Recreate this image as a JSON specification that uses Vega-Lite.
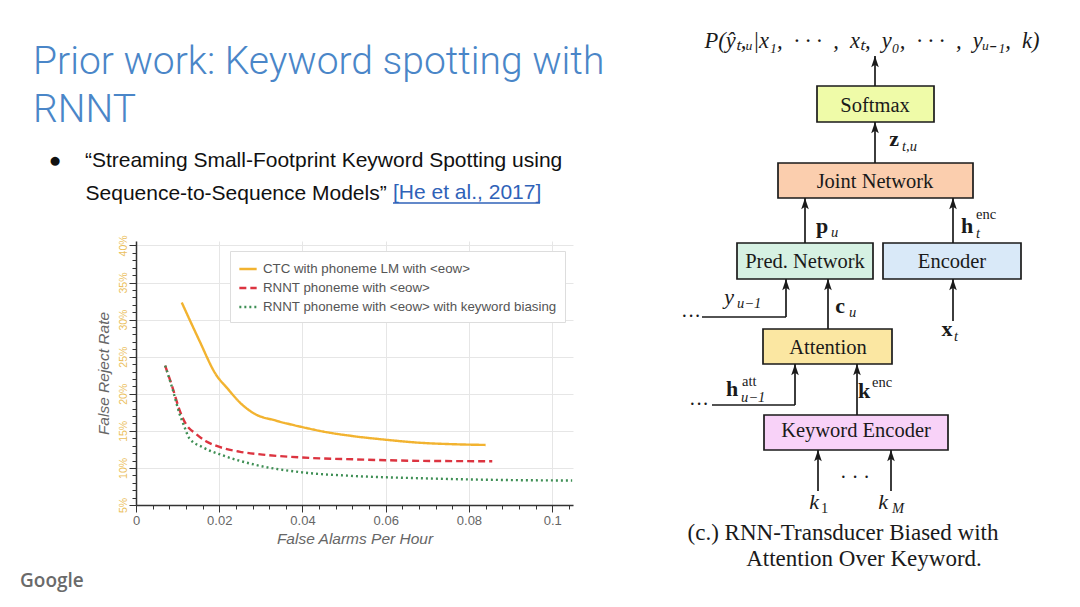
{
  "$schema": "https://vega.github.io/schema/vega-lite/v6.json",
  "background": "white",
  "padding": {"left": 20, "top": 30, "right": 0, "bottom": 12},
  "bounds": "flush",
  "spacing": 87,
  "config": {
    "view": {"stroke": null},
    "legend": {"orient": "none", "legendX": 94, "legendY": 10, "fillColor": "white", "strokeColor": "#dddddd", "padding": 8, "labelFont": "Liberation Sans", "labelFontSize": 13.3, "labelColor": "#555555", "rowPadding": 2, "symbolType": "stroke", "symbolStrokeWidth": 2.5, "symbolSize": 300, "labelOffset": 5, "labelLimit": 400}
  },
  "resolve": {"scale": {"color": "independent", "x": "independent", "y": "independent"}},
  "hconcat": [
    {
      "width": 437,
      "height": 264,
      "title": {
        "text": ["Prior work: Keyword spotting with", "RNNT"],
        "subtitle": ["\u200b\u00a0\u00a0\u2009●\u00a0\u00a0\u00a0\u00a0“Streaming Small-Footprint Keyword Spotting using", "\u200b\u00a0\u00a0\u00a0\u00a0\u00a0\u00a0\u00a0\u00a0\u00a0Sequence-to-Sequence Models”"],
        "anchor": "start",
        "frame": "group",
        "dx": -103,
        "font": "Roboto",
        "fontWeight": 300,
        "fontSize": 39,
        "lineHeight": 48,
        "color": "#4a86c8",
        "subtitleFont": "Liberation Sans",
        "subtitleFontSize": 21,
        "subtitleLineHeight": 33,
        "subtitleColor": "#111111",
        "subtitlePadding": 20,
        "offset": 31
      },
      "data": {"values": [
        {"series": "CTC with phoneme LM with <eow>", "far": 0.011, "frr": 32.3},
        {"series": "CTC with phoneme LM with <eow>", "far": 0.0152, "frr": 27.2},
        {"series": "CTC with phoneme LM with <eow>", "far": 0.0192, "frr": 22.6},
        {"series": "CTC with phoneme LM with <eow>", "far": 0.022, "frr": 20.7},
        {"series": "CTC with phoneme LM with <eow>", "far": 0.025, "frr": 18.8},
        {"series": "CTC with phoneme LM with <eow>", "far": 0.0285, "frr": 17.3},
        {"series": "CTC with phoneme LM with <eow>", "far": 0.0335, "frr": 16.4},
        {"series": "CTC with phoneme LM with <eow>", "far": 0.04, "frr": 15.5},
        {"series": "CTC with phoneme LM with <eow>", "far": 0.046, "frr": 14.8},
        {"series": "CTC with phoneme LM with <eow>", "far": 0.052, "frr": 14.3},
        {"series": "CTC with phoneme LM with <eow>", "far": 0.06, "frr": 13.8},
        {"series": "CTC with phoneme LM with <eow>", "far": 0.068, "frr": 13.4},
        {"series": "CTC with phoneme LM with <eow>", "far": 0.076, "frr": 13.2},
        {"series": "CTC with phoneme LM with <eow>", "far": 0.084, "frr": 13.1},
        {"series": "RNNT phoneme with <eow>", "far": 0.007, "frr": 23.8},
        {"series": "RNNT phoneme with <eow>", "far": 0.0088, "frr": 20.8},
        {"series": "RNNT phoneme with <eow>", "far": 0.0104, "frr": 17.9},
        {"series": "RNNT phoneme with <eow>", "far": 0.012, "frr": 15.9},
        {"series": "RNNT phoneme with <eow>", "far": 0.0144, "frr": 14.6},
        {"series": "RNNT phoneme with <eow>", "far": 0.0168, "frr": 13.6},
        {"series": "RNNT phoneme with <eow>", "far": 0.0192, "frr": 13.0},
        {"series": "RNNT phoneme with <eow>", "far": 0.0248, "frr": 12.2},
        {"series": "RNNT phoneme with <eow>", "far": 0.0304, "frr": 11.8},
        {"series": "RNNT phoneme with <eow>", "far": 0.04, "frr": 11.4},
        {"series": "RNNT phoneme with <eow>", "far": 0.0528, "frr": 11.15},
        {"series": "RNNT phoneme with <eow>", "far": 0.0688, "frr": 10.95},
        {"series": "RNNT phoneme with <eow>", "far": 0.0856, "frr": 10.9},
        {"series": "RNNT phoneme with <eow> with keyword biasing", "far": 0.007, "frr": 23.8},
        {"series": "RNNT phoneme with <eow> with keyword biasing", "far": 0.0088, "frr": 20.6},
        {"series": "RNNT phoneme with <eow> with keyword biasing", "far": 0.0104, "frr": 17.4},
        {"series": "RNNT phoneme with <eow> with keyword biasing", "far": 0.0116, "frr": 15.6},
        {"series": "RNNT phoneme with <eow> with keyword biasing", "far": 0.0128, "frr": 14.0},
        {"series": "RNNT phoneme with <eow> with keyword biasing", "far": 0.016, "frr": 12.8},
        {"series": "RNNT phoneme with <eow> with keyword biasing", "far": 0.0208, "frr": 11.7},
        {"series": "RNNT phoneme with <eow> with keyword biasing", "far": 0.0288, "frr": 10.4},
        {"series": "RNNT phoneme with <eow> with keyword biasing", "far": 0.04, "frr": 9.4},
        {"series": "RNNT phoneme with <eow> with keyword biasing", "far": 0.0528, "frr": 8.9},
        {"series": "RNNT phoneme with <eow> with keyword biasing", "far": 0.0688, "frr": 8.6},
        {"series": "RNNT phoneme with <eow> with keyword biasing", "far": 0.0848, "frr": 8.4},
        {"series": "RNNT phoneme with <eow> with keyword biasing", "far": 0.1048, "frr": 8.3}
      ]},
      "mark": {"type": "line", "strokeWidth": 2.4, "clip": true, "interpolate": "monotone"},
      "encoding": {
        "x": {
          "field": "far", "type": "quantitative",
          "scale": {"domain": [0, 0.105], "nice": false, "zero": false},
          "axis": {
            "title": "False Alarms Per Hour",
            "titleFont": "Liberation Sans", "titleFontStyle": "italic", "titleFontWeight": "normal",
            "titleFontSize": 15.5, "titleColor": "#666666", "titlePadding": 4,
            "values": [0,0.004,0.008,0.012,0.016,0.02,0.024,0.028,0.032,0.036,0.04,0.044,0.048,0.052,0.056,0.06,0.064,0.068,0.072,0.076,0.08,0.084,0.088,0.092,0.096,0.1,0.104],
            "labelExpr": "abs(datum.value*50 - round(datum.value*50)) < 0.001 ? format(datum.value, '.2~f') : ''",
            "labelFont": "Liberation Sans", "labelFontSize": 13, "labelColor": "#666666", "labelPadding": 2,
            "labelOverlap": false, "labelFlush": false,
            "tickSize": {"condition": {"test": "abs(datum.value*50 - round(datum.value*50)) < 0.001", "value": 7}, "value": 4},
            "tickColor": "#333333", "domainColor": "#333333", "domainWidth": 1.5,
            "gridColor": "#e6e6e6",
            "gridOpacity": {"condition": {"test": "abs(datum.value*50 - round(datum.value*50)) < 0.001", "value": 1}, "value": 0}
          }
        },
        "y": {
          "field": "frr", "type": "quantitative",
          "scale": {"domain": [5, 40.6], "nice": false, "zero": false},
          "axis": {
            "title": "False Reject Rate",
            "titleFont": "Liberation Sans", "titleFontStyle": "italic", "titleFontWeight": "normal",
            "titleFontSize": 15.5, "titleColor": "#666666", "titlePadding": 7,
            "values": [5,6,7,8,9,10,11,12,13,14,15,16,17,18,19,20,21,22,23,24,25,26,27,28,29,30,31,32,33,34,35,36,37,38,39,40],
            "labelExpr": "datum.value % 5 == 0 ? datum.value + '%' : ''",
            "labelAngle": 270, "labelAlign": "center", "labelBaseline": "bottom",
            "labelFont": "Liberation Sans", "labelFontSize": 10.5, "labelColor": "#ebc05c", "labelPadding": 1,
            "labelOverlap": false, "labelFlush": false,
            "tickSize": {"condition": {"test": "datum.value % 5 == 0", "value": 7}, "value": 4},
            "tickColor": "#333333", "domainColor": "#333333", "domainWidth": 1.5,
            "gridColor": "#e6e6e6",
            "gridOpacity": {"condition": {"test": "datum.value % 5 == 0", "value": 1}, "value": 0}
          }
        },
        "color": {
          "field": "series", "type": "nominal", "title": null,
          "scale": {"domain": ["CTC with phoneme LM with <eow>", "RNNT phoneme with <eow>", "RNNT phoneme with <eow> with keyword biasing"], "range": ["#f2b330", "#dc3440", "#3f8f55"]},
          "legend": {
            "encode": {
              "symbols": {
                "update": {
                  "strokeDash": {"signal": "datum.value === 'RNNT phoneme with <eow>' ? [7, 4] : datum.value === 'CTC with phoneme LM with <eow>' ? [1, 0] : [2, 3]"}
                }
              }
            }
          }
        },
        "strokeDash": {
          "field": "series", "type": "nominal", "title": null,
          "scale": {"domain": ["CTC with phoneme LM with <eow>", "RNNT phoneme with <eow>", "RNNT phoneme with <eow> with keyword biasing"], "range": [[1, 0], [7, 4], [2, 3]]},
          "legend": null
        }
      }
    },
    {
      "width": 415,
      "height": 335,
      "layer": [
        {
          "data": {"values": [
            {"box": "Softmax", "x1": 817, "x2": 934, "y1": 85, "y2": 121},
            {"box": "Joint Network", "x1": 778, "x2": 973, "y1": 162, "y2": 197},
            {"box": "Pred. Network", "x1": 737, "x2": 873, "y1": 242, "y2": 278},
            {"box": "Encoder", "x1": 883, "x2": 1021, "y1": 242, "y2": 278},
            {"box": "Attention", "x1": 763, "x2": 892, "y1": 328, "y2": 363},
            {"box": "Keyword Encoder", "x1": 764, "x2": 948, "y1": 414, "y2": 449}
          ]},
          "mark": {"type": "rect", "stroke": "#1a1a1a", "strokeWidth": 1.7},
          "encoding": {
            "x": {"field": "x1", "type": "quantitative", "scale": {"domain": [660, 1075], "nice": false, "zero": false}, "axis": null},
            "x2": {"field": "x2"},
            "y": {"field": "y1", "type": "quantitative", "scale": {"domain": [240, 575], "nice": false, "zero": false, "reverse": true}, "axis": null},
            "y2": {"field": "y2"},
            "fill": {"field": "box", "type": "nominal", "scale": {"domain": ["Softmax", "Joint Network", "Pred. Network", "Encoder", "Attention", "Keyword Encoder"], "range": ["#effba8", "#fbceae", "#d6f1e3", "#d9e9f8", "#fbe7a2", "#f8d2f8"]}, "legend": null}
          }
        },
        {
          "data": {"values": [
            {"label": "Softmax", "cx": 875, "base": 111},
            {"label": "Joint Network", "cx": 875, "base": 187},
            {"label": "Pred. Network", "cx": 805, "base": 267},
            {"label": "Encoder", "cx": 952, "base": 267},
            {"label": "Attention", "cx": 828, "base": 353},
            {"label": "Keyword Encoder", "cx": 856, "base": 436}
          ]},
          "mark": {"type": "text", "font": "Liberation Serif", "fontSize": 20.5, "color": "#1a1a1a", "align": "center", "baseline": "alphabetic"},
          "encoding": {
            "x": {"field": "cx", "type": "quantitative", "scale": {"domain": [660, 1075], "nice": false, "zero": false}, "axis": null},
            "y": {"field": "base", "type": "quantitative", "scale": {"domain": [240, 575], "nice": false, "zero": false, "reverse": true}, "axis": null},
            "text": {"field": "label"}
          }
        },
        {
          "data": {"values": [
            {"x": 875, "y": 85, "x2": 875, "y2": 55},
            {"x": 875, "y": 162, "x2": 875, "y2": 121},
            {"x": 805, "y": 242, "x2": 805, "y2": 197},
            {"x": 953, "y": 242, "x2": 953, "y2": 197},
            {"x": 953, "y": 320, "x2": 953, "y2": 278},
            {"x": 828, "y": 328, "x2": 828, "y2": 278},
            {"x": 786, "y": 316, "x2": 786, "y2": 278},
            {"x": 702, "y": 316, "x2": 786, "y2": 316},
            {"x": 795, "y": 404, "x2": 795, "y2": 363},
            {"x": 712, "y": 404, "x2": 795, "y2": 404},
            {"x": 857, "y": 414, "x2": 857, "y2": 363},
            {"x": 818, "y": 490, "x2": 818, "y2": 449},
            {"x": 891, "y": 490, "x2": 891, "y2": 449}
          ]},
          "mark": {"type": "rule", "color": "#1a1a1a", "strokeWidth": 1.7},
          "encoding": {
            "x": {"field": "x", "type": "quantitative", "scale": {"domain": [660, 1075], "nice": false, "zero": false}, "axis": null},
            "y": {"field": "y", "type": "quantitative", "scale": {"domain": [240, 575], "nice": false, "zero": false, "reverse": true}, "axis": null},
            "x2": {"field": "x2"},
            "y2": {"field": "y2"}
          }
        },
        {
          "data": {"values": [
            {"x": 875, "y": 55}, {"x": 875, "y": 121}, {"x": 805, "y": 197}, {"x": 953, "y": 197},
            {"x": 953, "y": 278}, {"x": 828, "y": 278}, {"x": 786, "y": 278}, {"x": 795, "y": 363},
            {"x": 857, "y": 363}, {"x": 818, "y": 449}, {"x": 891, "y": 449}
          ]},
          "mark": {"type": "point", "shape": "M0,-1L0.55,0.6L0,0.25L-0.55,0.6Z", "size": 190, "filled": true, "color": "#1a1a1a", "opacity": 1, "strokeWidth": 0, "yOffset": 7},
          "encoding": {
            "x": {"field": "x", "type": "quantitative", "scale": {"domain": [660, 1075], "nice": false, "zero": false}, "axis": null},
            "y": {"field": "y", "type": "quantitative", "scale": {"domain": [240, 575], "nice": false, "zero": false, "reverse": true}, "axis": null}
          }
        },
        {
          "data": {"values": [
            {"t": "z", "cx": 894, "base": 145},
            {"t": "p", "cx": 822, "base": 232},
            {"t": "h", "cx": 967, "base": 232},
            {"t": "c", "cx": 840, "base": 312},
            {"t": "x", "cx": 947, "base": 335},
            {"t": "h", "cx": 732, "base": 395},
            {"t": "k", "cx": 864, "base": 397}
          ]},
          "mark": {"type": "text", "font": "Liberation Serif", "fontSize": 22, "fontWeight": "bold", "color": "#1a1a1a", "align": "center", "baseline": "alphabetic"},
          "encoding": {
            "x": {"field": "cx", "type": "quantitative", "scale": {"domain": [660, 1075], "nice": false, "zero": false}, "axis": null},
            "y": {"field": "base", "type": "quantitative", "scale": {"domain": [240, 575], "nice": false, "zero": false, "reverse": true}, "axis": null},
            "text": {"field": "t"}
          }
        },
        {
          "data": {"values": [
            {"t": "y", "cx": 729, "base": 303},
            {"t": "k", "cx": 814, "base": 508},
            {"t": "k", "cx": 883, "base": 508}
          ]},
          "mark": {"type": "text", "font": "Liberation Serif", "fontSize": 22, "fontStyle": "italic", "color": "#1a1a1a", "align": "center", "baseline": "alphabetic"},
          "encoding": {
            "x": {"field": "cx", "type": "quantitative", "scale": {"domain": [660, 1075], "nice": false, "zero": false}, "axis": null},
            "y": {"field": "base", "type": "quantitative", "scale": {"domain": [240, 575], "nice": false, "zero": false, "reverse": true}, "axis": null},
            "text": {"field": "t"}
          }
        },
        {
          "data": {"values": [
            {"t": "t,u", "lx": 902, "base": 150},
            {"t": "u", "lx": 831, "base": 236},
            {"t": "t", "lx": 976, "base": 237},
            {"t": "u−1", "lx": 737, "base": 307},
            {"t": "u", "lx": 849, "base": 316},
            {"t": "t", "lx": 954, "base": 340},
            {"t": "u−1", "lx": 741, "base": 401},
            {"t": "M", "lx": 892, "base": 512}
          ]},
          "mark": {"type": "text", "font": "Liberation Serif", "fontSize": 14.5, "fontStyle": "italic", "color": "#1a1a1a", "align": "left", "baseline": "alphabetic"},
          "encoding": {
            "x": {"field": "lx", "type": "quantitative", "scale": {"domain": [660, 1075], "nice": false, "zero": false}, "axis": null},
            "y": {"field": "base", "type": "quantitative", "scale": {"domain": [240, 575], "nice": false, "zero": false, "reverse": true}, "axis": null},
            "text": {"field": "t"}
          }
        },
        {
          "data": {"values": [
            {"t": "enc", "lx": 976, "base": 218},
            {"t": "att", "lx": 742, "base": 385},
            {"t": "enc", "lx": 872, "base": 386},
            {"t": "1", "lx": 821, "base": 512}
          ]},
          "mark": {"type": "text", "font": "Liberation Serif", "fontSize": 14.5, "color": "#1a1a1a", "align": "left", "baseline": "alphabetic"},
          "encoding": {
            "x": {"field": "lx", "type": "quantitative", "scale": {"domain": [660, 1075], "nice": false, "zero": false}, "axis": null},
            "y": {"field": "base", "type": "quantitative", "scale": {"domain": [240, 575], "nice": false, "zero": false, "reverse": true}, "axis": null},
            "text": {"field": "t"}
          }
        },
        {
          "data": {"values": [
            {"t": "···", "cx": 691, "cy": 316},
            {"t": "···", "cx": 699, "cy": 404},
            {"t": "· · ·", "cx": 855, "cy": 477}
          ]},
          "mark": {"type": "text", "font": "Liberation Serif", "fontSize": 20, "color": "#1a1a1a", "align": "center", "baseline": "middle"},
          "encoding": {
            "x": {"field": "cx", "type": "quantitative", "scale": {"domain": [660, 1075], "nice": false, "zero": false}, "axis": null},
            "y": {"field": "cy", "type": "quantitative", "scale": {"domain": [240, 575], "nice": false, "zero": false, "reverse": true}, "axis": null},
            "text": {"field": "t"}
          }
        },
        {
          "data": {"values": [
            {"t": "P(ŷₜ,ᵤ|x₁,\u00a0\u00a0·\u00a0·\u00a0·\u00a0\u00a0,\u00a0\u00a0xₜ,\u00a0\u00a0y₀,\u00a0\u00a0·\u00a0·\u00a0·\u00a0\u00a0,\u00a0\u00a0yᵤ₋₁,\u00a0\u00a0k)", "cx": 872, "base": 47}
          ]},
          "mark": {"type": "text", "font": "Liberation Serif", "fontSize": 22.5, "fontStyle": "italic", "color": "#1a1a1a", "align": "center", "baseline": "alphabetic"},
          "encoding": {
            "x": {"field": "cx", "type": "quantitative", "scale": {"domain": [660, 1075], "nice": false, "zero": false}, "axis": null},
            "y": {"field": "base", "type": "quantitative", "scale": {"domain": [240, 575], "nice": false, "zero": false, "reverse": true}, "axis": null},
            "text": {"field": "t"}
          }
        },
        {
          "data": {"values": [
            {"t": "(c.) RNN-Transducer Biased with", "cx": 843, "base": 539},
            {"t": "Attention Over Keyword.", "cx": 864, "base": 565}
          ]},
          "mark": {"type": "text", "font": "Liberation Serif", "fontSize": 23, "color": "#1a1a1a", "align": "center", "baseline": "alphabetic"},
          "encoding": {
            "x": {"field": "cx", "type": "quantitative", "scale": {"domain": [660, 1075], "nice": false, "zero": false}, "axis": null},
            "y": {"field": "base", "type": "quantitative", "scale": {"domain": [240, 575], "nice": false, "zero": false, "reverse": true}, "axis": null},
            "text": {"field": "t"}
          }
        },
        {
          "data": {"values": [
            {"t": "[He et al., 2017]", "lx": 393, "base": 198}
          ]},
          "mark": {"type": "text", "font": "Liberation Sans", "fontSize": 21, "color": "#2f62b8", "align": "left", "baseline": "alphabetic"},
          "encoding": {
            "x": {"field": "lx", "type": "quantitative", "scale": {"domain": [660, 1075], "nice": false, "zero": false}, "axis": null},
            "y": {"field": "base", "type": "quantitative", "scale": {"domain": [240, 575], "nice": false, "zero": false, "reverse": true}, "axis": null},
            "text": {"field": "t"}
          }
        },
        {
          "data": {"values": [
            {"x": 393, "x2": 540, "y": 202}
          ]},
          "mark": {"type": "rule", "color": "#2f62b8", "strokeWidth": 1.3},
          "encoding": {
            "x": {"field": "x", "type": "quantitative", "scale": {"domain": [660, 1075], "nice": false, "zero": false}, "axis": null},
            "x2": {"field": "x2"},
            "y": {"field": "y", "type": "quantitative", "scale": {"domain": [240, 575], "nice": false, "zero": false, "reverse": true}, "axis": null}
          }
        },
        {
          "data": {"values": [
            {"t": "Google", "lx": 20, "base": 586}
          ]},
          "mark": {"type": "text", "font": "Open Sans", "fontSize": 19, "fontWeight": 600, "color": "#6a6a6a", "align": "left", "baseline": "alphabetic"},
          "encoding": {
            "x": {"field": "lx", "type": "quantitative", "scale": {"domain": [660, 1075], "nice": false, "zero": false}, "axis": null},
            "y": {"field": "base", "type": "quantitative", "scale": {"domain": [240, 575], "nice": false, "zero": false, "reverse": true}, "axis": null},
            "text": {"field": "t"}
          }
        }
      ]
    }
  ]
}
